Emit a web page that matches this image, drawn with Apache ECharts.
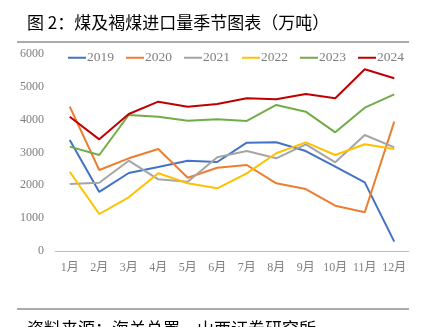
<!DOCTYPE html>
<html><head><meta charset="utf-8">
<script src="https://cdn.jsdelivr.net/npm/echarts@6/dist/echarts.min.js"></script>
<style>html,body{margin:0;padding:0;background:#fff}#c{width:425px;height:327px}</style>
</head><body><div id="c"></div>
<script>
var categories = ['1月','2月','3月','4月','5月','6月','7月','8月','9月','10月','11月','12月'];
var yTicks = [0,1000,2000,3000,4000,5000,6000];
var seriesNames = ['2019','2020','2021','2022','2023','2024'];
var v2019 = [3380,1800,2375,2560,2750,2710,3300,3310,3045,2570,2090,285];
var v2020 = [4395,2467,2823,3107,2233,2537,2620,2062,1888,1380,1180,3940];
var v2021 = [2040,2080,2750,2183,2110,2853,3045,2823,3250,2700,3533,3158];
var v2022 = [2415,1127,1635,2366,2062,1910,2366,2976,3310,2924,3250,3107];
var v2023 = [3180,2924,4143,4090,3970,4010,3960,4447,4243,3615,4365,4773];
var v2024 = [4090,3400,4173,4548,4395,4477,4650,4620,4782,4650,5535,5260];
var colors = ['#4472C4','#ED7D31','#A5A5A5','#FFC000','#70AD47','#C00000'];
var allData = [v2019,v2020,v2021,v2022,v2023,v2024];

var chart = echarts.init(document.getElementById('c'));
var serif = '"Liberation Serif","Noto Sans CJK SC",serif';
chart.setOption({
  animation:false,
  backgroundColor:'#fff',
  grid:{left:55,right:16,top:54,bottom:76,containLabel:false},
  legend:{
    top:46,left:63,itemGap:12,itemWidth:18,itemHeight:2,
    icon:'rect',
    textStyle:{fontFamily:serif,fontSize:13.5,color:'#7f7f7f',padding:[0,0,0,-4]},
    data:seriesNames
  },
  xAxis:{
    type:'category',data:categories,boundaryGap:true,
    axisLine:{lineStyle:{color:'#bfbfbf',width:1}},
    axisTick:{show:false},
    axisLabel:{fontFamily:serif,fontSize:12,color:'#7f7f7f',margin:11,interval:0}
  },
  yAxis:{
    type:'value',min:yTicks[0],max:yTicks[yTicks.length-1],interval:1000,
    axisLine:{show:false},axisTick:{show:false},splitLine:{show:false},
    axisLabel:{fontFamily:serif,fontSize:12,color:'#7f7f7f',margin:11,
      formatter:function(v){return String(v);}}
  },
  series:seriesNames.map(function(n,i){
    return {name:n,type:'line',data:allData[i],symbol:'none',
      lineStyle:{width:2,color:colors[i]},itemStyle:{color:colors[i]}};
  }),
  graphic:[
    {type:'text',left:27,top:14,style:{text:'图 2：煤及褐煤进口量季节图表（万吨）',font:'17px "Noto Sans CJK SC"',fill:'#000'}},
    {type:'line',shape:{x1:17,y1:42,x2:409,y2:42},style:{stroke:'#595959',lineWidth:1}},
    {type:'line',shape:{x1:17,y1:309,x2:409,y2:309},style:{stroke:'#595959',lineWidth:1}},
    {type:'text',left:27,top:320,style:{text:'资料来源：海关总署，山西证券研究所',font:'17px "Noto Sans CJK SC"',fill:'#000'}}
  ]
});
</script></body></html>
